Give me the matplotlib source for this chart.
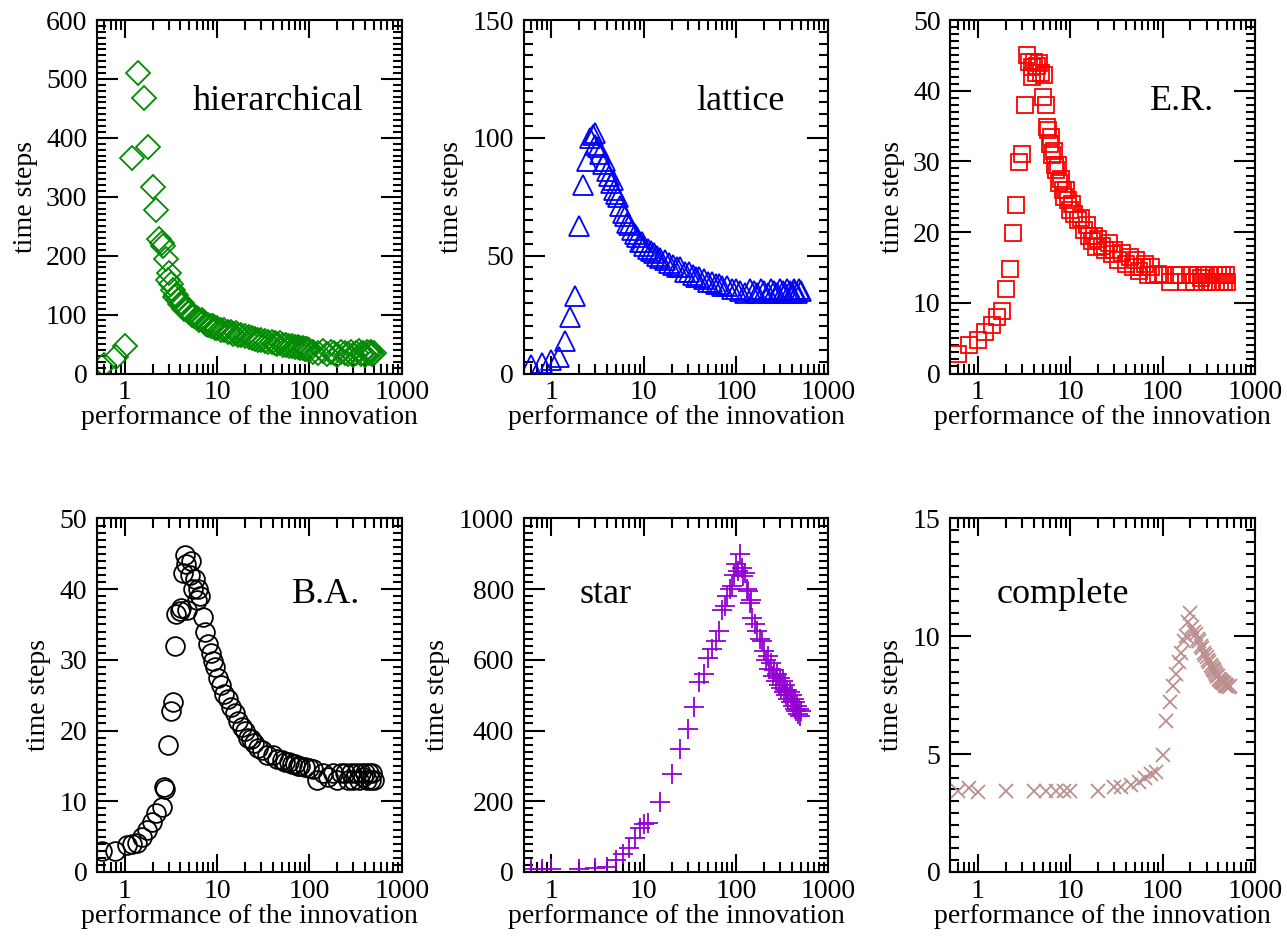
import numpy as np
import matplotlib
matplotlib.use('Agg')
import matplotlib.pyplot as plt
from matplotlib.ticker import LogLocator, MultipleLocator, NullFormatter

plt.rcParams['font.family'] = 'Liberation Serif'
plt.rcParams['font.size'] = 20

# hierarchical network
hier_x = [0.6, 0.8, 1.0, 1.2, 1.4, 1.6, 1.8, 2.0, 2.2, 2.35, 2.5, 2.6, 2.8, 2.9, 3.0, 3.2, 3.3, 3.5, 3.6, 3.8,
          4.0, 4.2, 4.4, 4.7, 5.0, 5.3, 5.6, 6.0, 6.4, 6.8, 7.2, 7.6, 8.0, 8.5, 9.0, 9.5, 10, 11, 12, 13,
          14, 15, 16, 17, 18, 20, 22, 24, 26, 28, 30, 33, 36, 39, 42, 45, 48, 52, 56, 60,
          65, 70, 75, 80, 85, 90, 95, 100, 110, 125, 140, 155, 170, 185, 200, 220, 240, 260, 280, 300,
          320, 340, 360, 380, 400, 420, 440, 460, 480, 500]
hier_y = [15, 28, 46, 365, 510, 467, 385, 316, 277, 228, 222, 216, 195, 158, 170, 152, 141, 130, 134, 124,
          118, 120, 110, 108, 104, 100, 98, 95, 91, 90, 87, 84, 83, 80, 80, 77, 78, 74, 73, 70,
          70, 67, 68, 65, 66, 63, 62, 60, 59, 57, 57, 55, 54, 53, 52, 50, 51, 49, 48, 47,
          46, 45, 45, 43, 44, 42, 41, 40, 36, 34, 38, 33, 36, 35, 32, 37, 34, 33, 36, 32,
          35, 38, 33, 35, 32, 36, 34, 37, 33, 35]

# lattice
lat_x = [0.6, 0.8, 1.0, 1.2, 1.4, 1.6, 1.8, 2.0, 2.2, 2.4, 2.6, 2.8, 3.0, 3.0, 3.2, 3.4, 3.6, 3.8, 4.0, 4.2,
         4.4, 4.6, 4.8, 5.0, 5.3, 5.6, 6.0, 6.3, 6.6, 7.0, 7.5, 8.0, 8.5, 9.0, 9.5, 10, 11, 12, 13, 14,
         15, 17, 19, 21, 23, 25, 28, 31, 34, 37, 40, 45, 50, 55, 60, 65, 70, 80, 90, 100,
         110, 125, 140, 155, 170, 185, 200, 220, 240, 260, 280, 300, 320, 340, 360, 380, 400, 420, 440, 460,
         480, 500]
lat_y = [3.4, 4.4, 5.8, 6.9, 14, 24, 33, 62.5, 80, 90, 100, 101, 102, 97, 96, 93, 89, 90, 86, 84,
         81, 82, 78, 76, 75, 71, 68, 67, 64, 63, 61, 59, 58, 56, 56, 54, 53, 52, 51, 50,
         49, 48, 47, 46, 45, 45, 43, 43, 42, 41, 41, 40, 39, 39, 38, 38, 37, 37, 36, 36,
         35, 34, 36, 35, 34, 36, 35, 34, 36, 35, 34, 36, 35, 34, 36, 35, 34, 36, 35, 34,
         36, 35]

# Erdos-Renyi
er_x = [0.6, 0.8, 1.0, 1.2, 1.4, 1.6, 1.8, 2.0, 2.2, 2.4, 2.6, 2.8, 3.0, 3.2, 3.4, 3.6, 3.8, 3.8, 4.0, 4.2,
        4.4, 4.6, 4.8, 5.0, 5.2, 5.4, 5.6, 5.8, 6.0, 6.2, 6.4, 6.6, 6.8, 7.0, 7.3, 7.6, 8.0, 8.3, 8.6, 9.0,
        9.5, 10, 10.5, 11, 12, 13, 14, 15, 16, 17, 18, 19, 20, 22, 24, 26, 28, 30, 33, 36,
        40, 44, 48, 52, 56, 60, 65, 70, 75, 80, 90, 100, 120, 140, 160, 180, 200, 220, 240, 260,
        280, 300, 320, 340, 360, 380, 400, 420, 440, 460, 480, 500]
er_y = [2.8, 4.0, 4.7, 5.9, 6.8, 8.0, 8.9, 11.9, 14.8, 19.9, 23.9, 29.9, 31, 38, 45, 44.1, 42, 43.3, 44, 42.5,
        43.5, 43.9, 42.5, 39.1, 42.2, 38, 34.9, 34.4, 32.5, 33.5, 30.9, 31.5, 29.5, 28.8, 29.5, 26.9, 27.5, 26, 25, 26,
        24.5, 23.1, 24, 22.5, 21.7, 22, 20.3, 21, 19.5, 18.8, 19.5, 17.9, 19, 18, 17.5, 18.5, 16.9, 17.5, 16, 17,
        15.5, 16.5, 15, 16, 14.5, 15, 15.5, 14, 15, 14, 14.1, 14, 13, 14, 14, 13, 14, 13, 14, 13.5,
        14, 13, 14, 13, 14, 13, 14, 13, 14, 13, 14, 13]

# Barabasi-Albert
ba_x = [0.57, 0.78, 1.05, 1.2, 1.34, 1.52, 1.73, 1.95, 2.2, 2.5, 2.68, 2.75, 2.96, 3.2, 3.35, 3.5, 3.6, 3.95, 4.1, 4.3,
        4.48, 4.6, 4.67, 5.07, 5.2, 5.5, 5.7, 6.0, 6.2, 6.6, 7.0, 7.4, 8.0, 8.5, 9.1, 9.5, 10.3, 11, 12, 13,
        14.3, 15.5, 17, 18.5, 20, 21.7, 23, 25, 28, 31, 35, 40, 45, 50, 55, 60, 65, 70, 75, 80,
        90, 100, 110, 120, 140, 160, 180, 200, 220, 240, 260, 280, 300, 320, 340, 360, 380, 400, 420, 440,
        460, 480, 500]
ba_y = [3, 2.9, 3.8, 4.0, 4.1, 5.0, 5.9, 7.1, 8.3, 9.2, 12, 11.8, 17.9, 22.8, 24, 32, 36.5, 36.9, 37.4, 42.3,
        44.9, 43.5, 37, 42, 44, 40, 41.5, 38.5, 40, 39, 36, 34, 32.2, 31, 29.9, 29, 27.5, 26.5, 25.2, 24.5,
        23.3, 22.5, 21.4, 20.5, 20, 19, 18.8, 18.3, 17.6, 17.2, 16.6, 16.5, 16, 15.8, 15.6, 15.5, 15.2, 15.3, 15, 15,
        14.8, 14.7, 14.5, 13, 14, 13.5, 14, 13, 14, 14, 13, 14, 13, 14, 13, 14, 13.5, 14, 13, 14,
        13, 14, 13]

# star
star_x = [0.6, 0.8, 1.0, 2, 3, 4, 5, 6, 7, 8, 9, 10, 11, 15, 20, 25, 30, 35, 40, 45,
          50, 55, 60, 65, 70, 75, 80, 85, 90, 95, 100, 105, 110, 115, 120, 125, 130, 135, 140, 145,
          150, 160, 170, 180, 190, 200, 210, 220, 230, 240, 250, 260, 270, 280, 290, 300, 310, 320, 330, 340,
          350, 360, 370, 380, 390, 400, 410, 420, 430, 440, 450, 460, 470, 480, 490, 500]
star_y = [7, 8, 7, 7, 10, 15, 34, 50, 67, 95, 123, 137, 139, 198, 278, 348, 405, 466, 536, 560,
          606, 630, 653, 682, 740, 752, 780, 800, 808, 840, 870, 850, 900, 860, 837, 845, 800, 794, 761, 770,
          719, 700, 682, 660, 654, 625, 600, 610, 575, 590, 555, 570, 540, 560, 530, 550, 520, 540, 510, 530,
          500, 515, 490, 510, 480, 500, 470, 490, 462, 480, 455, 470, 448, 462, 440, 455]

# complete graph
comp_x = [0.6, 0.8, 1.0, 2, 4, 5.5, 7, 8.5, 10, 20, 30, 35, 45, 55, 65, 75, 85, 100, 110, 120,
          130, 140, 150, 160, 170, 180, 190, 200, 210, 220, 230, 240, 250, 260, 270, 280, 290, 300, 310, 320,
          330, 340, 350, 360, 370, 380, 390, 400, 410, 420, 430, 440, 450, 460, 470, 480, 490, 500, 520, 540]
comp_y = [3.45, 3.55, 3.4, 3.45, 3.45, 3.45, 3.45, 3.45, 3.45, 3.45, 3.6, 3.6, 3.7, 3.8, 4.0, 4.15, 4.25, 4.95, 6.4, 7.2,
          7.9, 8.4, 8.9, 9.3, 9.8, 10.0, 10.6, 11.0, 10.4, 10.2, 10.1, 9.9, 9.8, 9.6, 9.5, 9.3, 9.2, 9.1, 9.0, 8.9,
          8.8, 8.7, 8.6, 8.55, 8.5, 8.4, 8.3, 8.3, 8.2, 8.15, 8.1, 8.05, 8.0, 8.0, 7.95, 7.95, 7.9, 7.9, 7.85, 7.9]

# x, y, label, ymax, major step, marker, size, color, label position
panels = [
    (hier_x, hier_y, 'hierarchical', 600, 100, 'D', 12, '#008b00', 0.595, 0.745),
    (lat_x, lat_y, 'lattice', 150, 50, '^', 14.5, '#0000ff', 0.71, 0.745),
    (er_x, er_y, 'E.R.', 50, 10, 's', 12, '#ff0000', 0.76, 0.745),
    (ba_x, ba_y, 'B.A.', 50, 10, 'o', 13.5, '#000000', 0.75, 0.76),
    (star_x, star_y, 'star', 1000, 200, '+', 14.5, '#9400d3', 0.27, 0.76),
    (comp_x, comp_y, 'complete', 15, 5, 'x', 10, '#bc8f8f', 0.37, 0.76),
]

fig, axes = plt.subplots(2, 3, figsize=(12.87, 9.39), dpi=100)
fig.subplots_adjust(left=0.0754, right=0.9751, bottom=0.0714, top=0.9787, wspace=0.4, hspace=0.41)

for ax, (x, y, name, ymax, ystep, marker, ms, color, tx, ty) in zip(axes.flat, panels):
    ax.plot(x, y, ls='none', marker=marker, ms=ms, mfc='none', mec=color, mew=1.3)
    ax.set_xscale('log')
    ax.set_xlim(0.5, 1000)
    ax.set_ylim(0, ymax)
    ax.set_xticks([1, 10, 100, 1000])
    ax.set_xticklabels(['1', '10', '100', '1000'])
    ax.xaxis.set_minor_locator(LogLocator(base=10, subs=np.arange(2, 10)))
    ax.xaxis.set_minor_formatter(NullFormatter())
    ax.yaxis.set_major_locator(MultipleLocator(ystep))
    ax.yaxis.set_minor_locator(MultipleLocator(ystep / 10))
    ax.tick_params(which='both', direction='in', top=True, right=True, width=1.5)
    ax.tick_params(axis='x', which='major', length=13, pad=5)
    ax.tick_params(axis='x', which='minor', length=7)
    ax.tick_params(axis='y', which='major', length=15, pad=7)
    ax.tick_params(axis='y', which='minor', length=6.5)
    for s in ax.spines.values():
        s.set_linewidth(1.5)
    ax.set_xlabel('performance of the innovation', labelpad=0)
    ax.set_ylabel('time steps', labelpad=6)
    ax.text(tx, ty, name, transform=ax.transAxes, ha='center', va='baseline', fontsize=26)

fig.savefig('out.png', dpi=100)
